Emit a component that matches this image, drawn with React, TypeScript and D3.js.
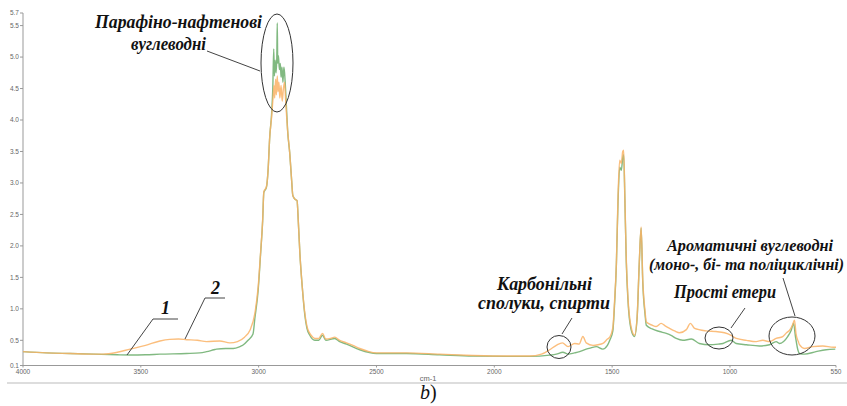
import React from "react";
import * as d3 from "d3";

// Series 1 (green) — wavenumber (cm-1) and absorbance
const series1Wn = [4000, 3900, 3800, 3700, 3600, 3546, 3480, 3419, 3306, 3250, 3221, 3190, 3179, 3140, 3108, 3080, 3066, 3045, 3024, 3016, 3002, 2992, 2983, 2978, 2967, 2960, 2953, 2945, 2940, 2936, 2933, 2930, 2926, 2923, 2921, 2919, 2916, 2912, 2908, 2905, 2901, 2897, 2893, 2890, 2886, 2882, 2877, 2868, 2860, 2855, 2845, 2837, 2832, 2825, 2815, 2804, 2795, 2783, 2762, 2745, 2729, 2715, 2677, 2656, 2627, 2571, 2500, 2373, 2232, 2090, 1949, 1850, 1765, 1737, 1709, 1687, 1660, 1638, 1610, 1590, 1567, 1540, 1520, 1510, 1497, 1490, 1482, 1475, 1468, 1461, 1455, 1451, 1446, 1440, 1433, 1420, 1405, 1394, 1385, 1377, 1370, 1360, 1355, 1330, 1299, 1270, 1250, 1228, 1200, 1164, 1130, 1087, 1050, 1030, 995, 973, 930, 875, 832, 804, 790, 755, 740, 730, 722, 712, 705, 684, 635, 592, 553];
const series1Abs = [0.32, 0.3, 0.29, 0.28, 0.27, 0.267, 0.27, 0.28, 0.29, 0.3, 0.32, 0.35, 0.36, 0.37, 0.37, 0.4, 0.425, 0.5, 0.6, 0.85, 1.3, 1.86, 2.4, 2.85, 2.93, 3.2, 3.73, 4.1, 4.5, 5.13, 4.7, 4.95, 4.75, 5.0, 5.54, 4.9, 5.02, 4.8, 4.9, 4.68, 4.84, 4.6, 4.84, 4.75, 4.5, 4.2, 3.83, 3.47, 3.04, 2.8, 2.74, 2.72, 2.41, 1.88, 1.35, 0.9, 0.69, 0.58, 0.5, 0.5, 0.58, 0.5, 0.53, 0.48, 0.44, 0.35, 0.29, 0.29, 0.27, 0.25, 0.245, 0.245, 0.265, 0.28, 0.31, 0.28, 0.3, 0.32, 0.36, 0.38, 0.4, 0.36, 0.42, 0.5, 0.65, 1.05, 1.7, 2.7, 3.25, 3.2, 3.4, 3.45, 2.75, 1.75, 1.15, 0.68, 0.56, 0.85, 1.7, 2.28, 1.42, 0.9, 0.74, 0.68, 0.64, 0.61, 0.58, 0.53, 0.5, 0.52, 0.45, 0.43, 0.44, 0.45, 0.5, 0.45, 0.43, 0.41, 0.43, 0.48, 0.45, 0.56, 0.66, 0.77, 0.56, 0.35, 0.29, 0.28, 0.32, 0.35, 0.36];

// Series 2 (orange)
const series2Wn = [4000, 3900, 3800, 3700, 3660, 3600, 3546, 3480, 3419, 3377, 3340, 3306, 3260, 3221, 3165, 3122, 3090, 3060, 3037, 3016, 3002, 2992, 2983, 2978, 2967, 2960, 2953, 2945, 2940, 2935, 2932, 2928, 2925, 2921, 2918, 2914, 2910, 2905, 2900, 2895, 2890, 2886, 2882, 2877, 2868, 2860, 2855, 2845, 2837, 2832, 2825, 2815, 2804, 2795, 2783, 2770, 2762, 2745, 2729, 2715, 2695, 2677, 2656, 2627, 2600, 2571, 2540, 2500, 2373, 2232, 2090, 1949, 1850, 1800, 1765, 1737, 1711, 1687, 1659, 1640, 1624, 1610, 1581, 1560, 1539, 1520, 1510, 1497, 1490, 1482, 1475, 1468, 1461, 1455, 1451, 1446, 1440, 1433, 1420, 1405, 1394, 1385, 1377, 1370, 1360, 1355, 1330, 1313, 1292, 1275, 1256, 1235, 1214, 1185, 1168, 1150, 1101, 1060, 1023, 995, 973, 930, 889, 861, 832, 804, 776, 760, 747, 735, 726, 720, 710, 705, 684, 648, 606, 561, 550];
const series2Abs = [0.32, 0.3, 0.29, 0.28, 0.28, 0.31, 0.36, 0.42, 0.49, 0.515, 0.52, 0.51, 0.5, 0.48, 0.49, 0.46, 0.48, 0.55, 0.66, 0.93, 1.35, 1.88, 2.41, 2.86, 2.94, 3.2, 3.73, 4.05, 4.3, 4.55, 4.35, 4.65, 4.4, 4.7, 4.45, 4.6, 4.35, 4.55, 4.3, 4.5, 4.6, 4.35, 4.1, 3.83, 3.47, 3.04, 2.8, 2.74, 2.72, 2.41, 1.88, 1.35, 0.93, 0.72, 0.61, 0.55, 0.53, 0.53, 0.61, 0.52, 0.53, 0.55, 0.5, 0.46, 0.42, 0.37, 0.33, 0.3, 0.3, 0.28, 0.26, 0.25, 0.25, 0.28, 0.35, 0.42, 0.46, 0.4, 0.45, 0.44, 0.56, 0.46, 0.42, 0.43, 0.45, 0.52, 0.55, 0.7, 1.1, 1.72, 2.78, 3.36, 3.31, 3.5, 3.52, 2.78, 1.8, 1.19, 0.72, 0.58, 0.87, 1.72, 2.3, 1.46, 0.95, 0.79, 0.74, 0.72, 0.77, 0.73, 0.69, 0.65, 0.62, 0.67, 0.77, 0.69, 0.65, 0.64, 0.62, 0.58, 0.53, 0.5, 0.48, 0.5, 0.48, 0.53, 0.56, 0.62, 0.66, 0.74, 0.82, 0.61, 0.48, 0.43, 0.37, 0.4, 0.41, 0.39, 0.39];

const xTicks = [4000, 3500, 3000, 2500, 2000, 1500, 1000, 550];
const yTicks = [0.1, 0.5, 1.0, 1.5, 2.0, 2.5, 3.0, 3.5, 4.0, 4.5, 5.0, 5.5, 5.7];

const W = 847;
const H = 406;

export default function App() {
  const x = d3.scaleLinear().domain([4000, 550]).range([23, 836]);
  const y = d3.scaleLinear().domain([0.1, 5.7]).range([365.5, 13]);
  const line = d3
    .line<[number, number]>()
    .x((d) => x(d[0]))
    .y((d) => y(d[1]))
    .curve(d3.curveMonotoneX);
  const s1 = series1Wn.map((w, i) => [w, series1Abs[i]] as [number, number]);
  const s2 = series2Wn.map((w, i) => [w, series2Abs[i]] as [number, number]);
  const annFont = {
    fontFamily: "'Liberation Serif', 'Times New Roman', serif",
    fontStyle: "italic",
    fontWeight: 700,
    fontSize: 18,
    fill: "#111",
    lengthAdjust: "spacingAndGlyphs",
  } as const;
  const tickFont = {
    fontFamily: "'Liberation Sans', Arial, sans-serif",
    fontSize: 6.5,
    fill: "#666",
  } as const;
  const y0 = y(0.1);
  return (
    <svg
      width={W}
      height={H}
      style={{ position: "absolute", left: 0, top: 0, background: "#fff" }}
    >
      {/* axes */}
      <line x1={x(4000)} x2={x(4000)} y1={y(5.7)} y2={y0} stroke="#999" strokeWidth={1} />
      <line x1={x(4000)} x2={x(550)} y1={y0} y2={y0} stroke="#999" strokeWidth={1} />
      {yTicks.map((t) => (
        <g key={"y" + t}>
          <line x1={x(4000) - 3} x2={x(4000)} y1={y(t)} y2={y(t)} stroke="#999" />
          <text x={x(4000) - 4} y={y(t)} dy="0.35em" textAnchor="end" {...tickFont}>
            {t.toFixed(1)}
          </text>
        </g>
      ))}
      {xTicks.map((t) => (
        <g key={"x" + t}>
          <line x1={x(t)} x2={x(t)} y1={y0} y2={y0 + 2} stroke="#999" />
          <text x={x(t)} y={y0 + 8} textAnchor="middle" {...tickFont}>
            {t}
          </text>
        </g>
      ))}
      <text x={428} y={380.5} textAnchor="middle" {...tickFont} fontSize={7.5}>
        cm-1
      </text>
      <line x1={7} x2={847} y1={383} y2={383} stroke="#bbb" strokeWidth={1} />
      <text
        x={420}
        y={399}
        fontFamily="'Liberation Serif', 'Times New Roman', serif"
        fontSize={20}
        fill="#111"
      >
        <tspan fontStyle="italic">b</tspan>)
      </text>

      {/* series */}
      <path d={line(s1) || ""} fill="none" stroke="#62a862" strokeWidth={1.4} strokeOpacity={0.8} />
      <path d={line(s2) || ""} fill="none" stroke="#fab366" strokeWidth={1.4} strokeOpacity={0.85} />

      {/* annotations */}
      <text x={95} y={28} textLength={167} {...annFont}>Парафіно-нафтенові</text>
      <text x={131} y={50} textLength={75} {...annFont}>вуглеводні</text>
      <line x1={207} y1={51} x2={260} y2={71} stroke="#444" strokeWidth={1} />
      <ellipse cx={277} cy={63} rx={16} ry={49} fill="none" stroke="#333" strokeWidth={1} />

      <text x={161} y={314} {...annFont}>1</text>
      <polyline points="178,319 153,319 127,355" fill="none" stroke="#444" strokeWidth={1} />
      <text x={211} y={294} {...annFont}>2</text>
      <polyline points="225,298 205,298 185,339" fill="none" stroke="#444" strokeWidth={1} />

      <text x={497} y={290} textLength={95} {...annFont}>Карбонільні</text>
      <text x={478} y={309} textLength={132} {...annFont}>сполуки, спирти</text>
      <line x1={572} y1={318} x2={562} y2={334} stroke="#444" strokeWidth={1} />
      <ellipse cx={559} cy={347} rx={12} ry={11.5} fill="none" stroke="#333" strokeWidth={1} />

      <text x={667} y={251} textLength={166} {...annFont} fontSize={16}>Ароматичні вуглеводні</text>
      <text x={649} y={270} textLength={195} {...annFont} fontSize={16}>(моно-, бі- та поліциклічні)</text>
      <line x1={783} y1={278} x2={795} y2={316} stroke="#444" strokeWidth={1} />
      <ellipse cx={792} cy={336} rx={23} ry={19} fill="none" stroke="#333" strokeWidth={1} />

      <text x={674} y={298} textLength={102} {...annFont}>Прості етери</text>
      <line x1={745} y1={308} x2={731} y2={328} stroke="#444" strokeWidth={1} />
      <ellipse cx={719} cy={338} rx={14} ry={11} fill="none" stroke="#333" strokeWidth={1} />
    </svg>
  );
}
